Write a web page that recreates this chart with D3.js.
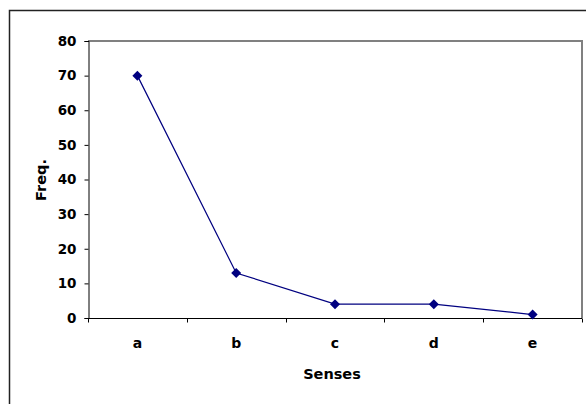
<!DOCTYPE html>
<html>
<head>
<meta charset="utf-8">
<script src="https://cdn.jsdelivr.net/npm/d3@7"></script>
<style>
  html, body { margin: 0; padding: 0; background: #fff; }
  svg { display: block; }
  text { font-family: "DejaVu Sans", Verdana, sans-serif; font-weight: bold; fill: #000; }
</style>
</head>
<body>
<svg id="chart" width="586" height="404"></svg>
<script>
// Frequency of each sense
const categories = ["a", "b", "c", "d", "e"];
const freq = [70, 13, 4, 4, 1];
const yTicks = [0, 10, 20, 30, 40, 50, 60, 70, 80];

const W = 586, H = 404;
const plot = { left: 88, top: 41, right: 582, bottom: 318 };

const svg = d3.select("#chart");

// Outer chart frame
svg.append("path")
  .attr("d", `M9.5,${H + 5} V10.5 H${W + 5}`)
  .attr("fill", "none")
  .attr("stroke", "#222")
  .attr("stroke-width", 1.5);

const x = d3.scaleBand().domain(categories).range([plot.left, plot.right]);
const y = d3.scaleLinear().domain([0, 80]).range([plot.bottom, plot.top]);

// Plot area border (top and right)
svg.append("path")
  .attr("d", `M${plot.left},${plot.top} H${plot.right} V${plot.bottom}`)
  .attr("fill", "none")
  .attr("stroke", "#808080")
  .attr("stroke-width", 2);

// Y axis
const yAxis = svg.append("g")
  .attr("transform", `translate(${plot.left + 0.5},0)`)
  .call(d3.axisLeft(y).tickValues(yTicks).tickSize(4).tickPadding(8));
yAxis.select(".domain").attr("stroke", "#000");
yAxis.selectAll(".tick line").attr("stroke", "#000");
yAxis.selectAll(".tick text")
  .attr("font-size", 13.5)
  .attr("font-family", "DejaVu Sans, sans-serif")
  .attr("font-weight", "bold")
  .attr("fill", "#000");

// X axis with ticks at category boundaries
const xAxisG = svg.append("g")
  .attr("transform", `translate(0,${plot.bottom + 0.5})`);
xAxisG.append("line")
  .attr("x1", plot.left).attr("x2", plot.right)
  .attr("stroke", "#000");
const boundaries = categories.map(c => x(c)).concat([x(categories[categories.length - 1]) + x.bandwidth()]);
xAxisG.selectAll("line.tick")
  .data(boundaries)
  .join("line")
  .attr("class", "tick")
  .attr("x1", d => Math.round(d) + 0.5).attr("x2", d => Math.round(d) + 0.5)
  .attr("y1", 0).attr("y2", 4)
  .attr("stroke", "#000");
xAxisG.selectAll("text")
  .data(categories)
  .join("text")
  .attr("x", d => x(d) + x.bandwidth() / 2)
  .attr("y", 29)
  .attr("text-anchor", "middle")
  .attr("font-size", 14)
  .text(d => d);

// Axis titles
svg.append("text")
  .attr("x", 332).attr("y", 378.5)
  .attr("text-anchor", "middle")
  .attr("font-size", 14.5)
  .text("Senses");

svg.append("text")
  .attr("transform", "translate(46,180) rotate(-90)")
  .attr("text-anchor", "middle")
  .attr("font-size", 14.5)
  .text("Freq.");

// Series line and markers
const pts = categories.map((c, i) => [x(c) + x.bandwidth() / 2, y(freq[i])]);
svg.append("path")
  .attr("d", d3.line()(pts))
  .attr("fill", "none")
  .attr("stroke", "#000080")
  .attr("stroke-width", 1.2);

svg.selectAll("path.marker")
  .data(pts)
  .join("path")
  .attr("class", "marker")
  .attr("transform", d => `translate(${d[0]},${d[1]})`)
  .attr("d", "M0,-5 L5,0 L0,5 L-5,0 Z")
  .attr("fill", "#000080");
</script>
</body>
</html>
